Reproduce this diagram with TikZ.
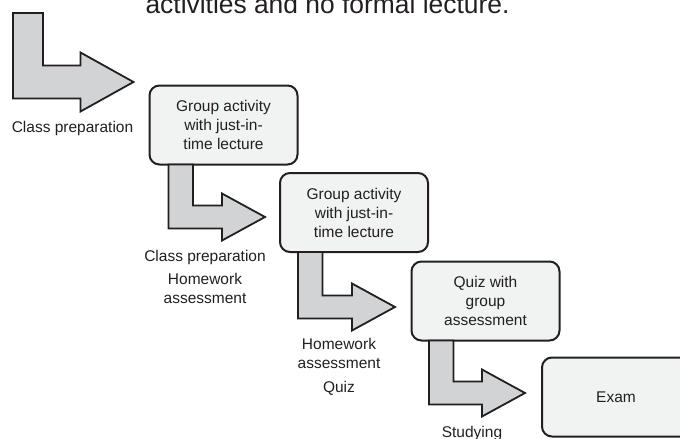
\documentclass[tikz,border=0pt]{standalone}
\usepackage{fontspec}
\setmainfont{Liberation Sans}
\usepackage{xcolor}
\usepackage{tikz}
\usetikzlibrary{calc}

\definecolor{inkgray}{HTML}{231F20}
\definecolor{arrowgray}{HTML}{D1D3D4}
\definecolor{boxgray}{HTML}{F1F2F2}

% 折线箭头: #1 竖条左上角, #2 箭头尖, #3 竖条宽, #4 箭杆半高, #5 箭头半高, #6 箭头长
\newcommand{\elbowarrow}[6]{%
  \draw[elbow] let \p1=(#1), \p2=(#2) in
    (\x1,\y1) -- (\x1+#3,\y1) -- (\x1+#3,\y2+#4) -- (\x2-#6,\y2+#4)
    -- (\x2-#6,\y2+#5) -- (\x2,\y2) -- (\x2-#6,\y2-#5)
    -- (\x2-#6,\y2-#4) -- (\x1,\y2-#4) -- cycle;}

\begin{document}
\begin{tikzpicture}[x=1pt, y=-1pt,
    font=\fontsize{15.5}{19}\selectfont, text=inkgray,
    stage/.style={draw=inkgray, line width=2pt, fill=boxgray, rounded corners=10pt,
      minimum width=148pt, minimum height=79pt, align=center, inner sep=0pt, outer sep=0pt},
    elbow/.style={draw=inkgray, line width=1.8pt, fill=arrowgray, line join=miter},
    note/.style={align=center, inner sep=0pt, anchor=north}]
    \useasboundingbox (0,0) rectangle (680,439);

    % 顶部被截断的文字
    \node[anchor=base west, font=\fontsize{26.4}{30}\selectfont] (title) at (142,13)
        {activities and no formal lecture.};

    % 各阶段方框
    \node[stage] (g1) at (223.5,125) {Group activity\\with just-in-\\time lecture};
    \node[stage] (g2) at (354,212.5) {Group activity\\with just-in-\\time lecture};
    \node[stage] (quiz) at (485.5,301) {Quiz with\\group\\assessment};
    \node[stage] (exam) at (616,397) {Exam};

    % 箭头的起点和箭头尖
    \coordinate (top1) at (13,13);
    \coordinate (tip1) at ($(g1.west)+(-16,-43)$);
    \coordinate (top2) at ($(g1.south west)+(19,0)$);
    \coordinate (tip2) at ($(g2.west)+(-15,4.5)$);
    \coordinate (top3) at ($(g2.south west)+(18,0)$);
    \coordinate (tip3) at ($(quiz.west)+(-16.5,6)$);
    \coordinate (top4) at ($(quiz.south west)+(17.5,0)$);
    \coordinate (tip4) at ($(exam.west)+(-17,-4)$);

    \elbowarrow{top1}{tip1}{30pt}{16.5pt}{29.5pt}{53pt}
    \elbowarrow{top2}{tip2}{24.5pt}{11.5pt}{23.5pt}{43pt}
    \elbowarrow{top3}{tip3}{24.5pt}{11.5pt}{23.5pt}{43pt}
    \elbowarrow{top4}{tip4}{24.5pt}{11.5pt}{23.5pt}{43pt}

    % 箭头下方的说明
    \node[note] (lab1) at (72.5,121) {Class preparation};
    \node[note] (lab2) at (205,250) {Class preparation\\[4pt]Homework\\assessment};
    \node[note] (lab3) at (339,338) {Homework\\assessment\\[5pt]Quiz};
    \node[note] (lab4) at (472,426) {Studying};

\end{tikzpicture}
\end{document}
